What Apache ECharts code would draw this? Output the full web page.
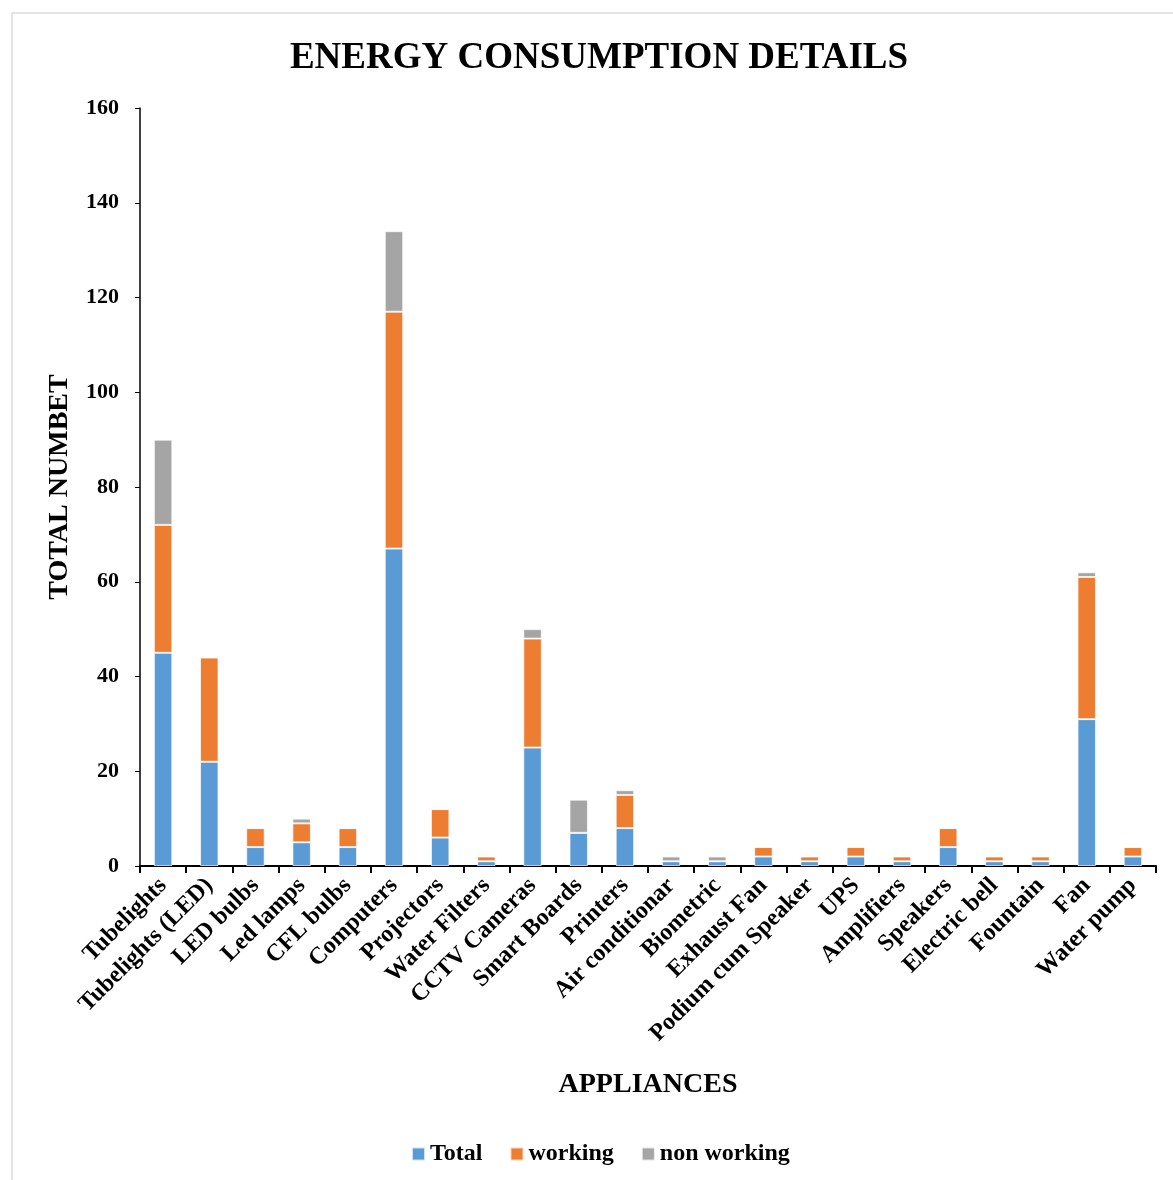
<!DOCTYPE html>
<html>
<head>
<meta charset="utf-8">
<script src="https://cdn.jsdelivr.net/npm/echarts@6/dist/echarts.min.js"></script>
<style>
  html, body { margin: 0; padding: 0; background: #fff; }
  #frame { position: absolute; left: 11px; top: 12px; width: 1180px; height: 1190px; border: 2px solid #e3e3e3; box-sizing: border-box; }
  #main { position: absolute; left: 0; top: 0; width: 1173px; height: 1180px; }
</style>
</head>
<body>
<div id="frame"></div>
<div id="main"></div>
<script>
// 類別與數值
const appliances = ['Tubelights', 'Tubelights (LED)', 'LED bulbs', 'Led lamps', 'CFL bulbs', 'Computers',
  'Projectors', 'Water Filters', 'CCTV Cameras', 'Smart Boards', 'Printers', 'Air conditionar',
  'Biometric', 'Exhaust Fan', 'Podium cum Speaker', 'UPS', 'Amplifiers', 'Speakers',
  'Electric bell', 'Fountain', 'Fan', 'Water pump'];
const totalData = [45, 22, 4, 5, 4, 67, 6, 1, 25, 7, 8, 1, 1, 2, 1, 2, 1, 4, 1, 1, 31, 2];
const workingData = [27, 22, 4, 4, 4, 50, 6, 1, 23, 0, 7, 0, 0, 2, 1, 2, 1, 4, 1, 1, 30, 2];
const nonWorkingData = [18, 0, 0, 1, 0, 17, 0, 0, 2, 7, 1, 1, 1, 0, 0, 0, 0, 0, 0, 0, 1, 0];

const font = 'Liberation Serif, Times New Roman, serif';

const chart = echarts.init(document.getElementById('main'));

function barSeries(name, data, color) {
    return {
        name: name,
        type: 'bar',
        stack: 'all',
        data: data,
        barWidth: '40%',
        itemStyle: { color: color, borderColor: 'rgba(255,255,255,0.7)', borderWidth: 1 }
    };
}

chart.setOption({
    animation: false,
    title: {
        text: 'ENERGY CONSUMPTION DETAILS',
        left: 594,
        textAlign: 'center',
        top: 35,
        textStyle: { fontFamily: font, fontSize: 37, fontWeight: 'bold', color: '#000' }
    },
    legend: {
        left: 406,
        top: 1137,
        itemWidth: 13,
        itemHeight: 13,
        itemGap: 27,
        icon: 'rect',
        textStyle: { fontFamily: font, fontSize: 24, fontWeight: 'bold', color: '#000' },
        data: ['Total', 'working', 'non working']
    },
    grid: { left: 140, right: 17, top: 108, bottom: 314 },
    xAxis: {
        type: 'category',
        data: appliances,
        name: 'APPLIANCES',
        nameLocation: 'middle',
        nameGap: 205,
        nameTextStyle: { fontFamily: font, fontSize: 28, fontWeight: 'bold', color: '#000' },
        axisLine: { lineStyle: { color: '#000', width: 2 } },
        axisTick: { show: true, length: 7, lineStyle: { color: '#000', width: 2 } },
        axisLabel: {
            interval: 0,
            rotate: 45,
            margin: 16,
            fontFamily: font,
            fontSize: 24,
            fontWeight: 'bold',
            color: '#000'
        }
    },
    yAxis: {
        type: 'value',
        min: 0,
        max: 160,
        interval: 20,
        name: 'TOTAL NUMBET',
        nameLocation: 'middle',
        nameGap: 66,
        nameTextStyle: { fontFamily: font, fontSize: 28, fontWeight: 'bold', color: '#000' },
        splitLine: { show: false },
        axisLine: { show: true, lineStyle: { color: '#000', width: 1.5 } },
        axisTick: { show: true, length: 5, lineStyle: { color: '#000' } },
        axisLabel: { margin: 21, fontFamily: font, fontSize: 22, fontWeight: 'bold', color: '#000' }
    },
    series: [
        barSeries('Total', totalData, '#5B9BD5'),
        barSeries('working', workingData, '#ED7D31'),
        barSeries('non working', nonWorkingData, '#A5A5A5')
    ]
});
</script>
</body>
</html>
